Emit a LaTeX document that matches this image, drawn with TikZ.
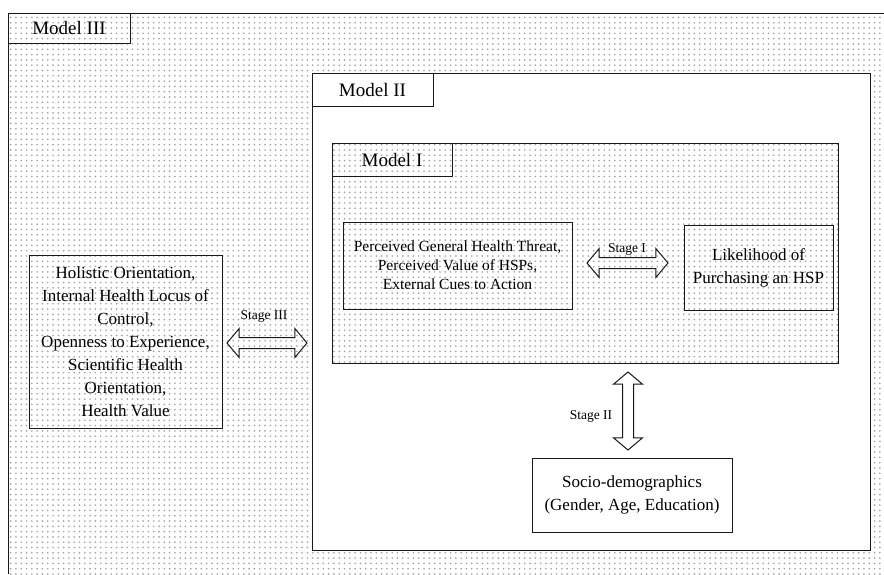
\documentclass[tikz,border=0pt]{standalone}
\usepackage{fontspec}
\setmainfont{Liberation Serif}
\usetikzlibrary{shapes.arrows,patterns.meta}
\tikzdeclarepattern{
  name=scandots,
  type=uncolored,
  bottom left={(-1pt,-1pt)},
  top right={(4.3pt,4.3pt)},
  tile size={(5.3pt,5.3pt)},
  code={\fill (0,0) circle (0.95pt);}
}
\newcommand\lblfont{\fontsize{19}{22}\selectfont}
\newcommand\boxfont{\fontsize{17}{23}\selectfont}
\newcommand\percfont{\fontsize{15.5}{19}\selectfont}
\newcommand\stagefont{\fontsize{13.5}{15}\selectfont}
\begin{document}
\begin{tikzpicture}[x=1pt,y=-1pt,
  frame/.style={draw=black!90, line width=1pt},
  box/.style={draw=black!90, line width=1pt, inner sep=0pt, align=center, text=black},
  dotfill/.style={pattern={scandots}, pattern color=gray!70},
  hollow/.style={double arrow, draw=black!90, line width=1pt, inner sep=0pt, inner ysep=5pt,
    double arrow head extend=9pt, double arrow tip angle=100},
  stagelbl/.style={inner sep=0pt, text=black, font=\stagefont}]
\fill[white] (0,0) rectangle (884,574);
\useasboundingbox (0,0) rectangle (884,574);
% Model III frame
\path[dotfill] (8,13) rectangle (884,574);
\draw[frame] (884,13) -- (8,13) -- (8,574);
\node[box, minimum width=122pt, minimum height=30pt, font=\lblfont] (m3lbl) at (69,28) {Model III};
% Model II
\node[box, fill=white, minimum width=558pt, minimum height=477pt] (m2) at (591,311.5) {};
\node[box, fill=white, minimum width=121pt, minimum height=33pt, font=\lblfont] (m2lbl) at (372.5,89.5) {Model II};
% Model I
\node[box, dotfill, minimum width=506pt, minimum height=220pt] (m1) at (585,253) {};
\node[box, minimum width=120pt, minimum height=33pt, font=\lblfont] (m1lbl) at (392,159.5) {Model I};
% inner boxes
\node[box, minimum width=229pt, minimum height=87pt, font=\percfont] (perc) at (457.5,265.5)
  {Perceived General Health Threat,\\ Perceived Value of HSPs,\\ External Cues to Action};
\node[box, minimum width=149pt, minimum height=85pt, font=\boxfont] (lik) at (758.5,267.5)
  {Likelihood of\\ Purchasing an HSP};
\node[box, minimum width=193pt, minimum height=173pt, font=\boxfont] (hol) at (125.5,341.5)
  {Holistic Orientation,\\ Internal Health Locus of\\ Control,\\ Openness to Experience,\\ Scientific Health\\ Orientation,\\ Health Value};
\node[box, minimum width=200pt, minimum height=74pt, font=\boxfont] (socio) at (632,495)
  {Socio-demographics\\ (Gender, Age, Education)};
% Stage arrows (between perc/lik, hol/m2, m1/socio)
\node[hollow, minimum height=81pt] (s1) at (627.5,263) {};
\node[stagelbl] at (627,249) {Stage I};
\node[hollow, minimum height=80pt] (s3) at (267,343) {};
\node[stagelbl] at (264,316) {Stage III};
\node[hollow, minimum height=78pt, rotate=90] (s2) at (628,411) {};
\node[stagelbl] at (591,416) {Stage II};
\end{tikzpicture}
\end{document}
